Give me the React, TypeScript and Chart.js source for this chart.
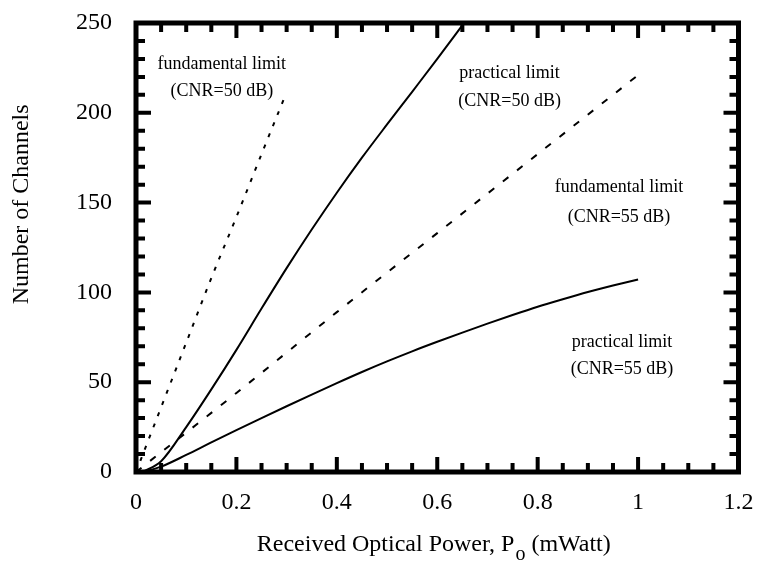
import React, { useEffect, useRef } from 'react';
import { Chart, registerables } from 'chart.js';

Chart.register(...registerables);

// ---- data ----
const fund50X = [0, 0.05, 0.1, 0.15, 0.2, 0.25, 0.295];
const fund50Y = [0, 36, 72, 108, 142, 177, 208];

const prac50X = [0.013, 0.05, 0.1, 0.15, 0.2, 0.25, 0.3, 0.35, 0.4, 0.45, 0.5, 0.55, 0.6, 0.652];
const prac50Y = [0, 6, 25, 46, 68, 91, 113.5, 135, 155.5, 175, 193.5, 211.7, 230, 249.5];

const fund55X = [0, 0.2, 0.4, 0.6, 0.8, 1.0];
const fund55Y = [0, 44, 89, 133, 177, 221];

const prac55X = [0.013, 0.05, 0.1, 0.15, 0.2, 0.25, 0.3, 0.35, 0.4, 0.45, 0.5, 0.55, 0.6, 0.65, 0.7, 0.75, 0.8, 0.85, 0.9, 0.95, 1.0];
const prac55Y = [0, 3, 9.5, 16.5, 23.3, 30, 36.6, 43.1, 49.5, 55.7, 61.6, 67.2, 72.5, 77.6, 82.6, 87.4, 92, 96.2, 100.2, 103.8, 107.2];

const annotationLines = [
  ['fundamental limit', '(CNR=50 dB)'],
  ['practical limit', '(CNR=50 dB)'],
  ['fundamental limit', '(CNR=55 dB)'],
  ['practical limit', '(CNR=55 dB)'],
];
const annotationX = [0.171, 0.744, 0.962, 0.968];
const annotationY = [
  [227, 212],
  [222, 206.5],
  [158.5, 142],
  [72.5, 57],
];

const xTitleMain = 'Received Optical Power, P';
const xTitleSub = 'o';
const xTitleEnd = ' (mWatt)';
const yTitle = 'Number of Channels';

const X_MIN = 0, X_MAX = 1.2, X_MAJOR = 0.2, X_MINOR = 0.05;
const Y_MIN = 0, Y_MAX = 250, Y_MAJOR = 50, Y_MINOR = 10;

const FONT = '"Liberation Serif", "Times New Roman", serif';

const toPoints = (xs: number[], ys: number[]) => xs.map((x, i) => ({ x, y: ys[i] }));

const framePlugin = {
  id: 'framePlugin',
  afterDatasetsDraw(chart: any) {
    const { ctx, chartArea: a, scales } = chart;
    const xs = scales.x;
    const ys = scales.y;
    ctx.save();
    ctx.strokeStyle = '#000';
    ctx.fillStyle = '#000';
    ctx.lineCap = 'butt';
    ctx.lineWidth = 4;
    const nX = Math.round((X_MAX - X_MIN) / X_MINOR);
    for (let i = 0; i <= nX; i++) {
      const v = X_MIN + i * X_MINOR;
      const r = v / X_MAJOR;
      const major = Math.abs(r - Math.round(r)) < 1e-6;
      const len = major ? 15 : 9;
      const px = xs.getPixelForValue(v);
      ctx.beginPath();
      ctx.moveTo(px, a.bottom);
      ctx.lineTo(px, a.bottom - len);
      ctx.moveTo(px, a.top);
      ctx.lineTo(px, a.top + len);
      ctx.stroke();
    }
    const nY = Math.round((Y_MAX - Y_MIN) / Y_MINOR);
    for (let i = 0; i <= nY; i++) {
      const v = Y_MIN + i * Y_MINOR;
      const major = v % Y_MAJOR === 0;
      const len = major ? 15 : 9;
      const py = ys.getPixelForValue(v);
      ctx.beginPath();
      ctx.moveTo(a.left, py);
      ctx.lineTo(a.left + len, py);
      ctx.moveTo(a.right, py);
      ctx.lineTo(a.right - len, py);
      ctx.stroke();
    }
    ctx.lineWidth = 5;
    ctx.strokeRect(a.left, a.top, a.right - a.left, a.bottom - a.top);

    // annotations
    ctx.font = `18px ${FONT}`;
    ctx.textAlign = 'center';
    ctx.textBaseline = 'middle';
    annotationLines.forEach((lines, i) => {
      const px = xs.getPixelForValue(annotationX[i]);
      lines.forEach((t, j) => {
        ctx.fillText(t, px, ys.getPixelForValue(annotationY[i][j]));
      });
    });

    // x title with subscript
    ctx.textAlign = 'left';
    ctx.textBaseline = 'alphabetic';
    const mainFont = `24px ${FONT}`;
    const subFont = `20px ${FONT}`;
    ctx.font = mainFont;
    const w1 = ctx.measureText(xTitleMain).width;
    const w3 = ctx.measureText(xTitleEnd).width;
    ctx.font = subFont;
    const w2 = ctx.measureText(xTitleSub).width;
    const total = w1 + w2 + w3;
    const cx = (a.left + a.right) / 2 - 4;
    const x0 = cx - total / 2;
    const base = a.bottom + 79;
    ctx.font = mainFont;
    ctx.fillText(xTitleMain, x0, base);
    ctx.font = subFont;
    ctx.fillText(xTitleSub, x0 + w1 + 1, base + 9);
    ctx.font = mainFont;
    ctx.fillText(xTitleEnd, x0 + w1 + w2 + 1, base);

    // y title
    ctx.save();
    ctx.translate(22, ys.getPixelForValue(149));
    ctx.rotate(-Math.PI / 2);
    ctx.textAlign = 'center';
    ctx.textBaseline = 'middle';
    ctx.font = mainFont;
    ctx.fillText(yTitle, 0, 0);
    ctx.restore();

    ctx.restore();
  },
};

export default function App() {
  const ref = useRef<HTMLCanvasElement | null>(null);
  useEffect(() => {
    if (!ref.current) return;
    const common = { borderColor: '#000', pointRadius: 0, fill: false, tension: 0, cubicInterpolationMode: 'monotone' as const };
    const chart = new Chart(ref.current, {
      type: 'line',
      data: {
        datasets: [
          { ...common, label: 'fundamental 50', data: toPoints(fund50X, fund50Y), borderWidth: 2, borderDash: [4, 8] },
          { ...common, label: 'practical 50', data: toPoints(prac50X, prac50Y), borderWidth: 2 },
          { ...common, label: 'fundamental 55', data: toPoints(fund55X, fund55Y), borderWidth: 2, borderDash: [7, 11] },
          { ...common, label: 'practical 55', data: toPoints(prac55X, prac55Y), borderWidth: 2 },
        ],
      },
      options: {
        animation: false,
        responsive: false,
        maintainAspectRatio: false,
        layout: { padding: { top: 23, right: 19.5, left: 0, bottom: 0 } },
        plugins: { legend: { display: false }, tooltip: { enabled: false } },
        scales: {
          x: {
            type: 'linear',
            min: X_MIN,
            max: X_MAX,
            grid: { display: false, drawTicks: false },
            border: { display: false },
            ticks: {
              stepSize: X_MAJOR,
              padding: 16,
              color: '#000',
              font: { family: FONT, size: 24 },
              maxRotation: 0,
              callback: (v: any) => String(Number(Number(v).toFixed(2))),
            },
            afterFit: (s: any) => { s.height = 91; s.paddingLeft = 0; s.paddingRight = 0; },
          },
          y: {
            type: 'linear',
            min: Y_MIN,
            max: Y_MAX,
            grid: { display: false, drawTicks: false },
            border: { display: false },
            ticks: {
              stepSize: Y_MAJOR,
              padding: 24,
              color: '#000',
              font: { family: FONT, size: 24 },
            },
            afterFit: (s: any) => { s.width = 136; s.paddingTop = 0; s.paddingBottom = 0; },
          },
        },
      },
      plugins: [framePlugin],
    });
    return () => chart.destroy();
  }, []);
  return (
    <div style={{ position: 'absolute', left: 0, top: 0, width: 758, height: 563, background: '#fff' }}>
      <canvas ref={ref} width={758} height={563} style={{ width: 758, height: 563, display: 'block' }} />
    </div>
  );
}
